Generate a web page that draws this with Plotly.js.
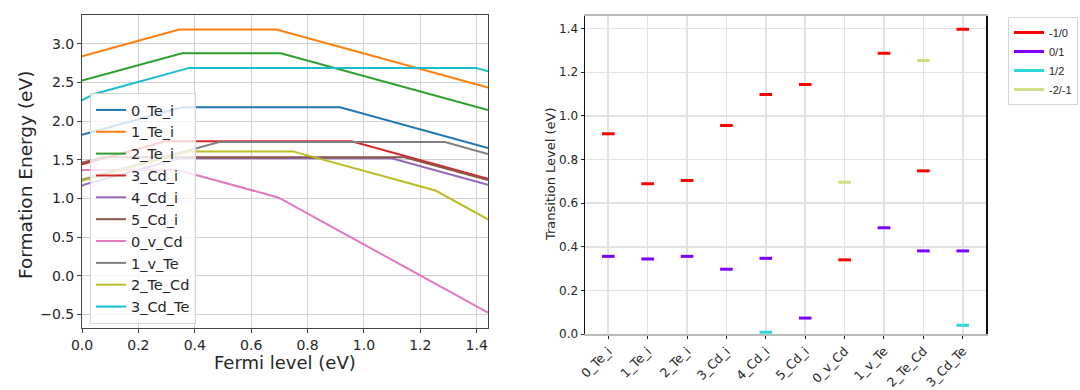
<!DOCTYPE html>
<html><head><meta charset="utf-8">
<script src="https://cdn.plot.ly/plotly-3.0.1.min.js"></script>
<style>html,body{margin:0;padding:0;background:#fff}#chart{width:1080px;height:390px}</style>
</head><body><div id="chart"></div>
<script>
// ---- Left panel: formation energy vs Fermi level (kink points) ----
const defectNames = ['0_Te_i','1_Te_i','2_Te_i','3_Cd_i','4_Cd_i','5_Cd_i','0_v_Cd','1_v_Te','2_Te_Cd','3_Cd_Te'];
const fermi_0TeI = [0, 0.355, 0.915, 1.44];        const energy_0TeI = [1.825, 2.18, 2.18, 1.655];
const fermi_1TeI = [0, 0.345, 0.69, 1.44];         const energy_1TeI = [2.84, 3.185, 3.185, 2.435];
const fermi_2TeI = [0, 0.355, 0.705, 1.44];        const energy_2TeI = [2.525, 2.88, 2.88, 2.145];
const fermi_3CdI = [0, 0.297, 0.956, 1.44];        const energy_3CdI = [1.443, 1.74, 1.74, 1.256];
const fermi_4CdI = [0, 0.008, 0.347, 1.098, 1.44]; const energy_4CdI = [1.165, 1.181, 1.52, 1.52, 1.178];
const fermi_5CdI = [0, 0.073, 1.144, 1.44];        const energy_5CdI = [1.462, 1.535, 1.535, 1.239];
const fermi_0vCd = [0, 0.34, 0.696, 1.44];         const energy_0vCd = [1.37, 1.37, 1.014, -0.474];
const fermi_1vTe = [0, 0.487, 1.287, 1.44];        const energy_1vTe = [1.243, 1.73, 1.73, 1.577];
const fermi_2TeCd = [0, 0.381, 0.748, 1.254, 1.44]; const energy_2TeCd = [1.229, 1.61, 1.61, 1.104, 0.732];
const fermi_3CdTe = [0, 0.04, 0.381, 1.397, 1.44]; const energy_3CdTe = [2.269, 2.349, 2.69, 2.69, 2.647];

// ---- Right panel: transition levels ----
const transCategories = ['0_Te_i','1_Te_i','2_Te_i','3_Cd_i','4_Cd_i','5_Cd_i','0_v_Cd','1_v_Te','2_Te_Cd','3_Cd_Te'];
const transLabels = ['-1/0','0/1','1/2','-2/-1'];
const level_m1_0  = [0.918, 0.689, 0.704, 0.956, 1.098, 1.144, 0.340, 1.287, 0.748, 1.397];
const level_0_1   = [0.356, 0.344, 0.356, 0.297, 0.347, 0.073, null, 0.487, 0.381, 0.381];
const level_1_2   = [null, null, null, null, 0.008, null, null, null, null, 0.040];
const level_m2_m1 = [null, null, null, null, null, null, 0.696, null, 1.254, null];

const lineColors = ['#1f77b4','#ff7f0e','#2ca02c','#d62728','#9467bd','#8c564b','#e377c2','#7f7f7f','#bcbd22','#17becf'];
const levelColors = ['#ff0000','#8000ff','#2ad8d8','#d2dc84'];

const fermiSets = [fermi_0TeI,fermi_1TeI,fermi_2TeI,fermi_3CdI,fermi_4CdI,fermi_5CdI,fermi_0vCd,fermi_1vTe,fermi_2TeCd,fermi_3CdTe];
const energySets = [energy_0TeI,energy_1TeI,energy_2TeI,energy_3CdI,energy_4CdI,energy_5CdI,energy_0vCd,energy_1vTe,energy_2TeCd,energy_3CdTe];
const levelSets = [level_m1_0, level_0_1, level_1_2, level_m2_m1];

const FONT = 'DejaVu Sans, Liberation Sans, sans-serif';
const TXT = '#262626';
const traces = [];
defectNames.forEach((n, i) => {
  traces.push({type:'scatter', mode:'lines', name:n, x:fermiSets[i], y:energySets[i],
    xaxis:'x', yaxis:'y', line:{color:lineColors[i], width:2}, legend:'legend', hoverinfo:'x+y+name'});
});
const halfW = 0.16;
levelSets.forEach((arr, k) => {
  const xs = [], ys = [];
  arr.forEach((v, i) => { if (v !== null) { xs.push(i - halfW, i + halfW, null); ys.push(v, v, null); } });
  traces.push({type:'scatter', mode:'lines', name:transLabels[k], x:xs, y:ys, xaxis:'x2', yaxis:'y2',
    line:{color:levelColors[k], width:3}, legend:'legend2', connectgaps:false});
});

const layout = {
  width:1080, height:390, margin:{l:0,r:0,t:0,b:0},
  paper_bgcolor:'#fff', plot_bgcolor:'#fff', showlegend:true,
  font:{family:FONT, color:TXT},
  xaxis:{domain:[82/1080, 488/1080], range:[0,1.44], dtick:0.2, tick0:0, tickformat:'.1f',
    showgrid:true, gridcolor:'#d0d0d0', gridwidth:1, zeroline:false,
    showline:true, linecolor:'#444', linewidth:1, mirror:true,
    ticks:'outside', ticklen:4, tickcolor:'#444', tickfont:{size:14, family:FONT, color:TXT}, anchor:'y'},
  yaxis:{domain:[1-328/390, 1-15/390], range:[-0.674,3.374], dtick:0.5, tick0:0, tickformat:'.1f',
    showgrid:true, gridcolor:'#d0d0d0', gridwidth:1, zeroline:false,
    showline:true, linecolor:'#444', linewidth:1, mirror:true,
    ticks:'outside', ticklen:4, tickcolor:'#444', tickfont:{size:14, family:FONT, color:TXT}, anchor:'x'},
  xaxis2:{domain:[585/1080, 986/1080], range:[-0.59,9.59], tickvals:transCategories.map((c,i)=>i), ticktext:transCategories,
    tickangle:-45, showgrid:true, gridcolor:'#e2e2e2', gridwidth:1.5, zeroline:false,
    showline:true, linecolor:'#bbbbbb', linewidth:2, mirror:true,
    ticks:'outside', ticklen:3, tickcolor:'#222', tickfont:{size:12.5, family:FONT, color:TXT}, anchor:'y2'},
  yaxis2:{domain:[1-334/390, 1-16/390], range:[0,1.458], dtick:0.2, tick0:0, tickformat:'.1f',
    showgrid:true, gridcolor:'#e2e2e2', gridwidth:1.5, zeroline:false,
    showline:true, linecolor:'#111', linewidth:1.5, mirror:true,
    ticks:'outside', ticklen:3, tickcolor:'#222', tickfont:{size:12, family:FONT, color:TXT}, anchor:'x2'},
  legend:{x:90/1080, y:1-93/390, xanchor:'left', yanchor:'top', bgcolor:'rgba(255,255,255,0.8)',
    bordercolor:'#d5d5d5', borderwidth:1, font:{size:14.5, family:FONT, color:TXT}, tracegroupgap:0},
  legend2:{x:1008/1080, y:1-17/390, xanchor:'left', yanchor:'top', bgcolor:'#fff',
    bordercolor:'#d5d5d5', borderwidth:1, font:{size:11, family:'Liberation Sans, Arial, sans-serif', color:TXT}},
  annotations:[
    {text:'Fermi level (eV)', xref:'paper', yref:'paper', x:285/1080, y:1-362/390, xanchor:'center', yanchor:'middle',
     showarrow:false, font:{size:18, family:FONT, color:TXT}},
    {text:'Formation Energy (eV)', xref:'paper', yref:'paper', x:26/1080, y:1-175/390, xanchor:'center', yanchor:'middle',
     textangle:-90, showarrow:false, font:{size:18.5, family:FONT, color:TXT}},
    {text:'Transition Level (eV)', xref:'paper', yref:'paper', x:551/1080, y:1-175/390, xanchor:'center', yanchor:'middle',
     textangle:-90, showarrow:false, font:{size:13, family:FONT, color:TXT}}
  ]
};
Plotly.newPlot('chart', traces, layout, {displayModeBar:false, staticPlot:true});
</script></body></html>
